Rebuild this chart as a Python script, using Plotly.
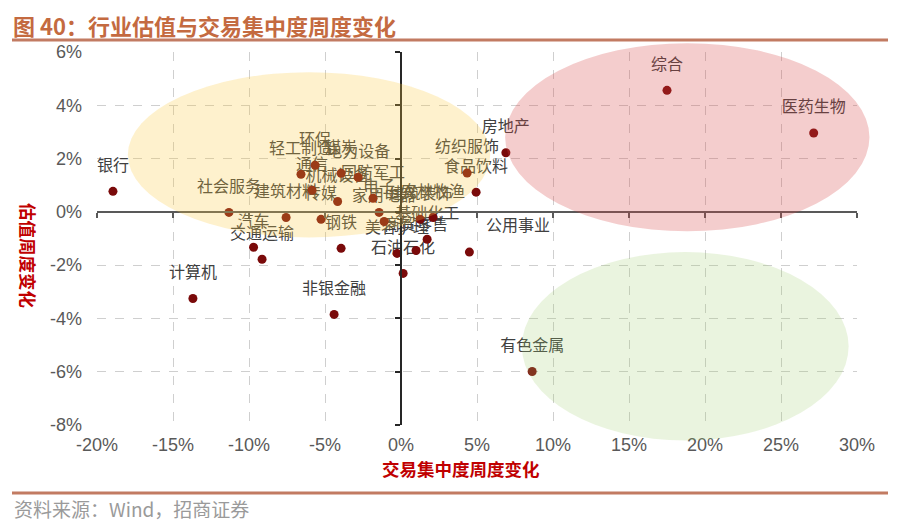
import plotly.graph_objects as go

# 行业名称 / 交易集中度周度变化(%) / 估值周度变化(%)
industries = ['银行', '计算机', '非银金融', '有色金属', '综合', '医药生物', '房地产',
              '纺织服饰', '食品饮料', '公用事业', '环保', '轻工制造', '通信', '机械设备',
              '社会服务', '建筑材料', '传媒', '汽车', '交通运输', '钢铁', '电力设备',
              '煤炭', '国防军工', '电子', '家用电器', '建筑装饰', '农林牧渔', '基础化工',
              '美容护理', '商贸零售', '石油石化']
conc_chg = [-18.95, -13.69, -4.40, 8.63, 17.50, 27.15, 6.90,
            4.35, 4.94, 4.50, -5.65, -6.58, -5.85, -4.17,
            -11.32, -7.56, -5.26, -9.70, -9.14, -3.94, -2.82,
            -3.94, -1.84, -1.44, -1.11, 1.26, 2.11, 1.72,
            -0.26, 0.99, 0.14]
val_chg = [0.77, -3.25, -3.85, -5.99, 4.56, 2.96, 2.22,
           1.46, 0.74, -1.51, 1.75, 1.41, 0.81, 0.39,
           -0.02, -0.21, -0.28, -1.33, -1.78, -1.37, 1.30,
           1.45, 0.51, -0.02, -0.36, -0.28, -0.21, -1.03,
           -1.56, -1.45, -2.31]

x_ticks = [-20, -15, -10, -5, 0, 5, 10, 15, 20, 25, 30]
y_ticks = [-8, -6, -4, -2, 0, 2, 4, 6]
x_ticktext = [f'{v}%' for v in x_ticks]
y_ticktext = [f'{v}%' for v in y_ticks]

# page body has an 8px margin, so the figure is drawn 8px in from the corner
OFF = 8
W, H = 906 - OFF, 528 - OFF
L, R, T, B = 97 - OFF, 49, 52 - OFF, 103
XR = [-20, 30]
YR = [-8, 6]
pw, ph = W - L - R, H - T - B


def px_x(px):
    return (px - OFF - L) / pw


def px_y(py):
    return (H - B - (py - OFF)) / ph


def dx(v):
    return (v - XR[0]) / (XR[1] - XR[0])


def dy(v):
    return (v - YR[0]) / (YR[1] - YR[0])


cjk = 'Noto Sans CJK SC'
label_font = dict(family=cjk, size=16, color='#404040')
positions = ['top right' if n == '公用事业' else 'top center' for n in industries]

fig = go.Figure()
# labels: a transparent big marker pushes the text up like the excel data labels
fig.add_trace(go.Scatter(
    x=conc_chg, y=val_chg, text=industries,
    mode='markers+text', textposition=positions, textfont=label_font,
    marker=dict(size=25, color='rgba(0,0,0,0)'),
    showlegend=False, hoverinfo='skip',
))
fig.add_trace(go.Scatter(
    x=conc_chg, y=val_chg, text=industries, mode='markers',
    marker=dict(size=9, color='#7a0a0a'),
    showlegend=False, hoverinfo='text+x+y',
))
# empty trace so the zero-line axes get drawn
fig.add_trace(go.Scatter(x=[], y=[], xaxis='x2', yaxis='y2', showlegend=False))

# 三个椭圆区域 (data units, converted to paper so they are not clipped)
ellipses = [
    ((-17.97, 5.87), (-0.96, 5.24), 'rgb(252,200,60)', 0.26),
    ((6.85, 30.82), (-0.73, 6.33), 'rgb(215,70,70)', 0.27),
    ((7.95, 29.45), (-8.58, -1.51), 'rgb(160,205,110)', 0.22),
]
for (x0, x1), (y0, y1), col, op in ellipses:
    fig.add_shape(type='circle', xref='paper', yref='paper',
                  x0=dx(x0), x1=dx(x1), y0=dy(y0), y1=dy(y1),
                  fillcolor=col, opacity=op, line=dict(width=0), layer='above')

# 标题下横线 & 底部横线
line_col = '#c27b62'
fig.add_shape(type='line', xref='paper', yref='paper', x0=px_x(12), x1=px_x(888),
              y0=px_y(40), y1=px_y(40), line=dict(color=line_col, width=3))
fig.add_shape(type='line', xref='paper', yref='paper', x0=px_x(12), x1=px_x(888),
              y0=px_y(493), y1=px_y(493), line=dict(color=line_col, width=3))

fig.add_annotation(text='<b>图 40：行业估值与交易集中度周度变化</b>', xref='paper', yref='paper',
                   x=px_x(11), y=px_y(25), xanchor='left', yanchor='middle', showarrow=False,
                   font=dict(family=cjk, size=22, color='#c46a40'))
fig.add_annotation(text='资料来源：Wind，招商证券', xref='paper', yref='paper',
                   x=px_x(12), y=px_y(508), xanchor='left', yanchor='middle', showarrow=False,
                   font=dict(family=cjk, size=19, color='#9a9a9a'))
fig.add_annotation(text='<b>交易集中度周度变化</b>', xref='paper', yref='paper',
                   x=px_x(461), y=px_y(468), xanchor='center', yanchor='middle', showarrow=False,
                   font=dict(family=cjk, size=17.5, color='#c00000'))
fig.add_annotation(text='<b>估值周度变化</b>', xref='paper', yref='paper',
                   x=px_x(28), y=px_y(255), xanchor='center', yanchor='middle', showarrow=False,
                   textangle=90, font=dict(family=cjk, size=17.5, color='#c00000'))

tick_font = dict(family='Liberation Sans, Arial', size=18, color='#595959')
fig.update_layout(
    width=W, height=H,
    margin=dict(l=L, r=R, t=T, b=B),
    paper_bgcolor='white', plot_bgcolor='white',
    xaxis=dict(range=XR, tickvals=x_ticks, ticktext=x_ticktext, showgrid=True,
               gridcolor='#cfcfcf', griddash='dash', gridwidth=1, zeroline=False,
               showline=False, ticks='', tickfont=tick_font, ticklabelstandoff=7),
    yaxis=dict(range=YR, tickvals=y_ticks, ticktext=y_ticktext, showgrid=True,
               gridcolor='#cfcfcf', griddash='dash', gridwidth=1, zeroline=False,
               showline=False, ticks='', tickfont=tick_font, ticklabelstandoff=14),
    xaxis2=dict(range=XR, overlaying='x', anchor='free', position=dy(0), side='bottom',
                tickvals=x_ticks, showticklabels=False, showgrid=False, zeroline=False,
                showline=True, linecolor='#595959', linewidth=1.5,
                ticks='outside', ticklen=5, tickcolor='#595959', tickwidth=1.5),
    yaxis2=dict(range=YR, overlaying='y', anchor='free', position=dx(0), side='left',
                tickvals=y_ticks, showticklabels=False, showgrid=False, zeroline=False,
                showline=True, linecolor='#262626', linewidth=1.5,
                ticks='outside', ticklen=5, tickcolor='#262626', tickwidth=1.5),
)

fig.write_html('out.html')
